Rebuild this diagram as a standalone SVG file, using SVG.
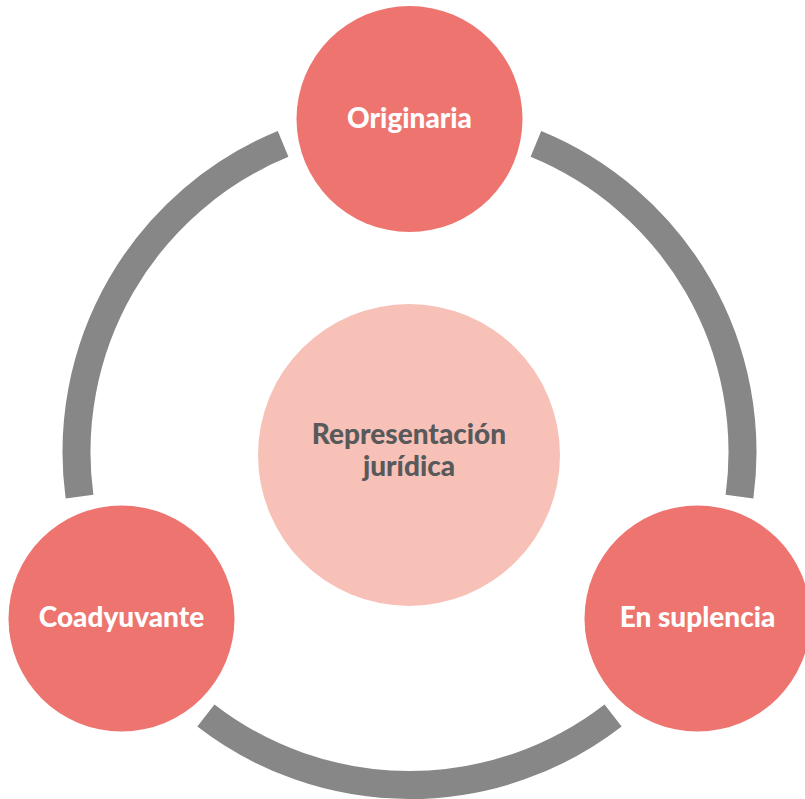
<svg xmlns="http://www.w3.org/2000/svg" width="805" height="799" viewBox="0 0 805 799">
<style>
.ring{fill:none;stroke:#878787;stroke-width:28;stroke-linecap:butt}
.outer{fill:#EE7470}
.center{fill:#F8C1B8}
.lbl{font-family:Lato,"Open Sans","Liberation Sans",sans-serif;font-weight:900;font-size:28px;text-anchor:middle}
.w{fill:#FFFFFF}
.d{fill:#58595B}
</style>
<rect width="805" height="799" fill="#FFFFFF"/>
<g id="connectors">
<path class="ring" d="M535.9,143.9 A333,333 0 0 1 739.5,496.6"/>
<path class="ring" d="M613.1,715.5 A333,333 0 0 1 205.9,715.5"/>
<path class="ring" d="M79.5,496.6 A333,333 0 0 1 283.1,143.9"/>
</g>
<g id="center">
<circle class="center" cx="409" cy="455" r="151"/>
<text class="lbl d" x="409" y="444">Representación</text>
<text class="lbl d" x="409" y="476">jurídica</text>
</g>
<g id="originaria">
<circle class="outer" cx="409.5" cy="119" r="113"/>
<text class="lbl w" x="409.5" y="128">Originaria</text>
</g>
<g id="coadyuvante">
<circle class="outer" cx="121.5" cy="618.5" r="113"/>
<text class="lbl w" x="121.5" y="627">Coadyuvante</text>
</g>
<g id="en-suplencia">
<circle class="outer" cx="697.5" cy="618.5" r="113"/>
<text class="lbl w" x="697.5" y="627">En suplencia</text>
</g>
</svg>
